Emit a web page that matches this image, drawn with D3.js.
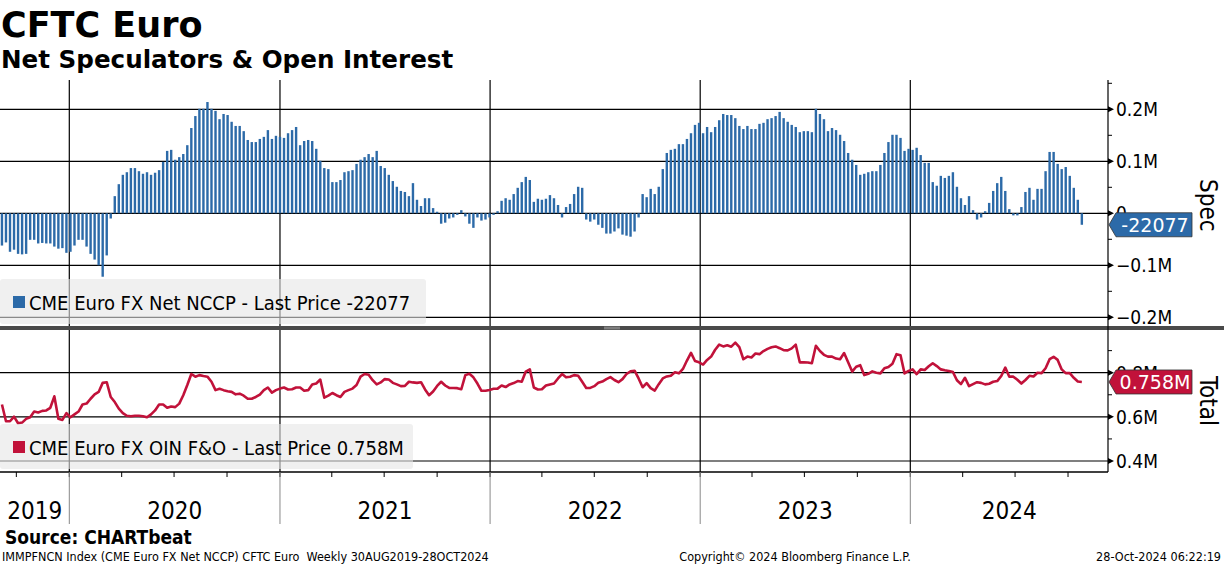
<!DOCTYPE html>
<html>
<head>
<meta charset="utf-8">
<script src="https://cdn.jsdelivr.net/npm/d3@7"></script>
<style>
  body { margin: 0; background: #fff; }
  svg { display: block; }
</style>
</head>
<body>
<svg id="chart"></svg>
<script>
'use strict'

// weekly CFTC data, first visible week
const firstWeek = '2019-09-06'
// CME Euro FX net non-commercial positions, thousands of contracts
const specNet = [
  -62,-56,-74,-70,-78,-79,-78,-51,-51,-58,-57,-58,-58,-64,-68,-67,-76,-74,-62,-51,
  -51,-64,-78,-89,-100,-122,-81,-10,33,56,74,79,87,87,81,76,79,74,78,83,
  99,120,122,103,108,114,131,164,187,201,201,214,201,197,181,191,189,176,168,168,
  158,141,137,137,143,147,160,143,149,
  147,145,154,160,166,131,139,141,139,124,101,87,85,60,60,64,79,81,83,95,
  103,108,114,108,120,91,87,74,62,51,43,41,33,58,26,14,29,29,10,3,
  -20,-18,-10,-8,-3,6,-6,-20,-28,-8,-14,-12,-8,-3,4,24,29,26,37,49,
  60,70,64,22,28,26,28,35,
  29,16,-8,12,18,37,51,49,-12,-16,-12,-22,-28,-39,-39,-35,-29,-41,-43,-45,
  -35,-8,37,31,47,37,51,85,116,122,124,133,133,143,154,170,174,154,166,156,
  166,179,191,189,189,183,168,162,168,162,162,172,174,181,183,187,195,183,176,170,
  166,156,158,158,156,201,
  191,181,158,164,160,151,139,116,103,93,74,76,79,81,81,93,116,137,151,151,
  145,120,124,122,126,112,97,97,60,53,72,68,72,79,51,29,16,33,6,-12,
  -8,4,20,43,58,70,43,8,-4,-4,12,41,49,26,47,47,81,118,118,95,
  85,89,72,49,26,-22.077
]
// CME Euro FX open interest, futures & options, millions of contracts
const openInterest = [
  .656,.580,.580,.601,.571,.574,.591,.598,.624,.620,.627,.629,.641,.693,.591,.586,.617,.598,.611,.624,
  .656,.660,.682,.702,.713,.754,.757,.690,.667,.637,.617,.605,.603,.605,.605,.603,.598,.611,.629,.656,
  .656,.641,.647,.644,.660,.698,.744,.794,.782,.789,.785,.782,.759,.721,.727,.721,.716,.713,.702,.705,
  .696,.682,.682,.690,.701,.721,.733,.710,.721,.728,.733,.724,.725,.733,.733,.718,.721,.747,.751,.769,
  .687,.696,.708,.698,.690,.713,.721,.728,.744,.782,.794,.791,.766,
  .747,.756,.771,.769,.754,.747,.739,.740,.759,.756,.754,.757,.724,.698,.715,.740,.759,.742,.731,.731,
  .730,.725,.789,.795,.779,.751,.718,.718,.722,.727,.728,.742,.735,.747,.753,.762,.759,.805,.815,.733,
  .724,.725,.742,.747,.751,.774,.794,.779,.782,.789,.786,.759,.731,.731,.739,.754,.760,.771,.780,.767,
  .757,.771,.794,.806,.809,.774,.734,.753,.730,.719,.748,.774,.783,.786,.802,.797,.817,.855,.890,.853,
  .847,.837,.858,.873,.904,.927,.919,.924,
  .918,.936,.916,.861,.873,.869,.887,.884,.898,.908,.915,.919,.911,.902,.901,.910,.927,.847,.847,.846,
  .843,.922,.898,.881,.873,.873,.864,.861,.889,.847,.805,.827,.834,.789,.795,.806,.800,.797,.820,.826,
  .841,.884,.879,.797,.808,.815,.794,.815,.812,.829,.843,.830,.815,.811,.808,.803,.766,.748,.777,.739,
  .748,.757,.754,.747,.750,.759,.762,.785,.823,.782,.782,.768,.751,.767,.786,.783,.800,.798,.820,.861,
  .872,.858,.815,.798,.798,.777,.760,.758
]
const specTicks = [0.2, 0.1, 0, -0.1, -0.2] // millions
const specMinor = [0.25, 0.15, 0.05, -0.05, -0.15]
const oiTicks = [0.8, 0.6, 0.4]
const oiMinor = [0.9, 0.7, 0.5]
const years = [2019, 2020, 2021, 2022, 2023, 2024]

const W = 1224, H = 566
const left = 0, right = 1108
const topY = 80, splitY = 326, botTop = 330, botY = 472
const blue = '#2c6aa8', red = '#c1123a'
const font = '"DejaVu Sans Condensed", "DejaVu Sans", sans-serif'

const parse = d3.timeParse('%Y-%m-%d')
const start = parse(firstWeek)
const dates = specNet.map((d, i) => d3.timeDay.offset(start, 7 * i))

const svg = d3.select('#chart').attr('width', W).attr('height', H)
  .style('font-family', font)

// x scale anchored on year boundaries
const x = d3.scaleTime()
  .domain([new Date(2020, 0, 1), new Date(2024, 0, 1)])
  .range([69.3, 910.3])
const ySpec = d3.scaleLinear().domain([-0.2, 0.2]).range([317.3, 109.3])
const yOI = d3.scaleLinear().domain([0.4, 0.8]).range([461, 372.7])

const defs = svg.append('defs')
defs.append('clipPath').attr('id', 'clipTop').append('rect')
  .attr('x', left).attr('y', topY).attr('width', right - left).attr('height', splitY - topY)
defs.append('clipPath').attr('id', 'clipBot').append('rect')
  .attr('x', left).attr('y', botTop).attr('width', right - left).attr('height', botY - botTop)

// titles
svg.append('text').attr('x', 1).attr('y', 37)
  .style('font-family', '"DejaVu Sans", sans-serif').style('font-weight', 'bold')
  .style('font-size', '35px').text('CFTC Euro')
svg.append('text').attr('x', 1).attr('y', 68)
  .style('font-family', '"DejaVu Sans", sans-serif').style('font-weight', 'bold')
  .style('font-size', '24.6px').text('Net Speculators & Open Interest')

// gridlines
const grid = svg.append('g').attr('stroke', '#000').attr('stroke-width', 1.2)
grid.selectAll('.hs').data(specTicks).join('line')
  .attr('x1', left).attr('x2', right)
  .attr('y1', d => ySpec(d)).attr('y2', d => ySpec(d))
grid.selectAll('.ho').data(oiTicks).join('line').attr('class', 'ho')
  .attr('x1', left).attr('x2', right)
  .attr('y1', d => yOI(d)).attr('y2', d => yOI(d))
const yearStarts = years.slice(1).map(y => new Date(y, 0, 1))
grid.selectAll('.v').data(yearStarts).join('line').attr('class', 'v')
  .attr('x1', d => x(d)).attr('x2', d => x(d))
  .attr('y1', topY).attr('y2', botY)

// bars
svg.append('g').attr('clip-path', 'url(#clipTop)')
  .selectAll('rect').data(specNet).join('rect')
  .attr('x', (d, i) => x(dates[i]) - 1.2)
  .attr('width', 2.4)
  .attr('y', d => ySpec(Math.max(0, d / 1000)))
  .attr('height', d => Math.abs(ySpec(d / 1000) - ySpec(0)))
  .attr('fill', blue)

// open interest line
const line = d3.line()
  .x((d, i) => x(dates[i]))
  .y(d => yOI(d))
svg.append('path').attr('clip-path', 'url(#clipBot)')
  .datum(openInterest)
  .attr('d', line)
  .attr('fill', 'none').attr('stroke', red).attr('stroke-width', 2.6)
  .attr('stroke-linejoin', 'round')

// legends
function legend(y0, w, color, label) {
  const g = svg.append('g')
  g.append('rect').attr('x', 0).attr('y', y0).attr('width', w).attr('height', 45)
    .attr('rx', 3).attr('fill', '#e6e6e6').attr('fill-opacity', 0.6)
  g.append('rect').attr('x', 13).attr('y', y0 + 17).attr('width', 12).attr('height', 12)
    .attr('fill', color)
  g.append('text').attr('x', 29).attr('y', y0 + 30.5)
    .style('font-size', '20px').attr('fill', '#000').text(label)
}
legend(279, 426, blue, 'CME Euro FX Net NCCP - Last Price -22077')
legend(424, 413, red, 'CME Euro FX OIN F&O - Last Price 0.758M')

// panel separator
svg.append('rect').attr('x', 0).attr('y', splitY).attr('width', W).attr('height', 4)
  .attr('fill', '#4a4a4a')
svg.append('g').attr('stroke', '#aaa').attr('stroke-width', 0.8)
  .selectAll('line').data([327.2, 328.8]).join('line')
  .attr('x1', 604).attr('x2', 620).attr('y1', d => d).attr('y2', d => d)

// right axis
svg.append('line').attr('x1', right).attr('x2', right).attr('y1', topY).attr('y2', botY)
  .attr('stroke', '#000').attr('stroke-width', 1.2)
const fmtM = d => d === 0 ? '0' : d3.format('.1f')(d) + 'M'
function sideAxis(scale, ticks, minor) {
  const g = svg.append('g')
  g.selectAll('path').data(ticks).join('path')
    .attr('d', d => `M${right},${scale(d) - 3}L${right + 6},${scale(d)}L${right},${scale(d) + 3}Z`)
    .attr('fill', '#000')
  g.selectAll('line').data(minor).join('line')
    .attr('x1', right).attr('x2', right + 4)
    .attr('y1', d => scale(d)).attr('y2', d => scale(d))
    .attr('stroke', '#000')
  g.selectAll('text').data(ticks).join('text')
    .attr('x', right + 8).attr('y', d => scale(d)).attr('dy', '0.36em')
    .style('font-size', '19px').text(fmtM)
}
sideAxis(ySpec, specTicks, specMinor)
sideAxis(yOI, oiTicks, oiMinor)

// last value tags
function tag(y, color, label) {
  const g = svg.append('g')
  g.append('path')
    .attr('d', `M${right + 1},${y}L${right + 8},${y - 12}L${right + 84},${y - 12}L${right + 84},${y + 12}L${right + 8},${y + 12}Z`)
    .attr('fill', color).attr('stroke', '#333').attr('stroke-width', 0.8)
  g.append('text').attr('x', right + 47).attr('y', y).attr('dy', '0.36em')
    .attr('text-anchor', 'middle').attr('fill', '#fff')
    .style('font-family', '"DejaVu Sans", sans-serif').style('font-size', '19px').text(label)
}
tag(ySpec(specNet[specNet.length - 1] / 1000), blue, '-22077')
tag(yOI(openInterest[openInterest.length - 1]), red, '0.758M')

// axis titles
svg.append('text').attr('transform', `translate(1200,${ySpec(0) - 8}) rotate(90)`)
  .attr('text-anchor', 'middle').style('font-size', '24px').text('Spec')
svg.append('text').attr('transform', `translate(1200,${(botTop + botY) / 2}) rotate(90)`)
  .attr('text-anchor', 'middle').style('font-size', '24px').text('Total')

// bottom time axis
const xa = svg.append('g')
xa.append('line').attr('x1', left).attr('x2', right).attr('y1', botY).attr('y2', botY)
  .attr('stroke', '#000').attr('stroke-width', 1.4)
const quarters = d3.timeMonth.every(3).range(x.invert(left), x.invert(right))
xa.selectAll('.q').data(quarters).join('line').attr('class', 'q')
  .attr('x1', d => x(d)).attr('x2', d => x(d)).attr('y1', botY).attr('y2', botY + 5)
  .attr('stroke', '#000')
xa.selectAll('.ys').data(yearStarts).join('line').attr('class', 'ys')
  .attr('x1', d => x(d)).attr('x2', d => x(d)).attr('y1', botY).attr('y2', 524)
  .attr('stroke', '#888')
xa.selectAll('text').data(years).join('text')
  .attr('x', y => (Math.max(left, x(new Date(y, 0, 1))) + Math.min(right, x(new Date(y + 1, 0, 1)))) / 2)
  .attr('y', 519).attr('text-anchor', 'middle').style('font-size', '24px').text(y => y)

// footer
svg.append('text').attr('x', 5).attr('y', 544).style('font-weight', 'bold')
  .style('font-size', '19px').text('Source: CHARTbeat')
const foot = svg.append('g').style('font-size', '12.5px')
foot.append('text').attr('x', 2).attr('y', 561)
  .text('IMMPFNCN Index (CME Euro FX Net NCCP) CFTC Euro  Weekly 30AUG2019-28OCT2024')
  .attr('xml:space', 'preserve')
foot.append('text').attr('x', 795).attr('y', 561).attr('text-anchor', 'middle')
  .text('Copyright\u00a9 2024 Bloomberg Finance L.P.')
foot.append('text').attr('x', 1221).attr('y', 561).attr('text-anchor', 'end')
  .text('28-Oct-2024 06:22:19')
</script>
</body>
</html>
